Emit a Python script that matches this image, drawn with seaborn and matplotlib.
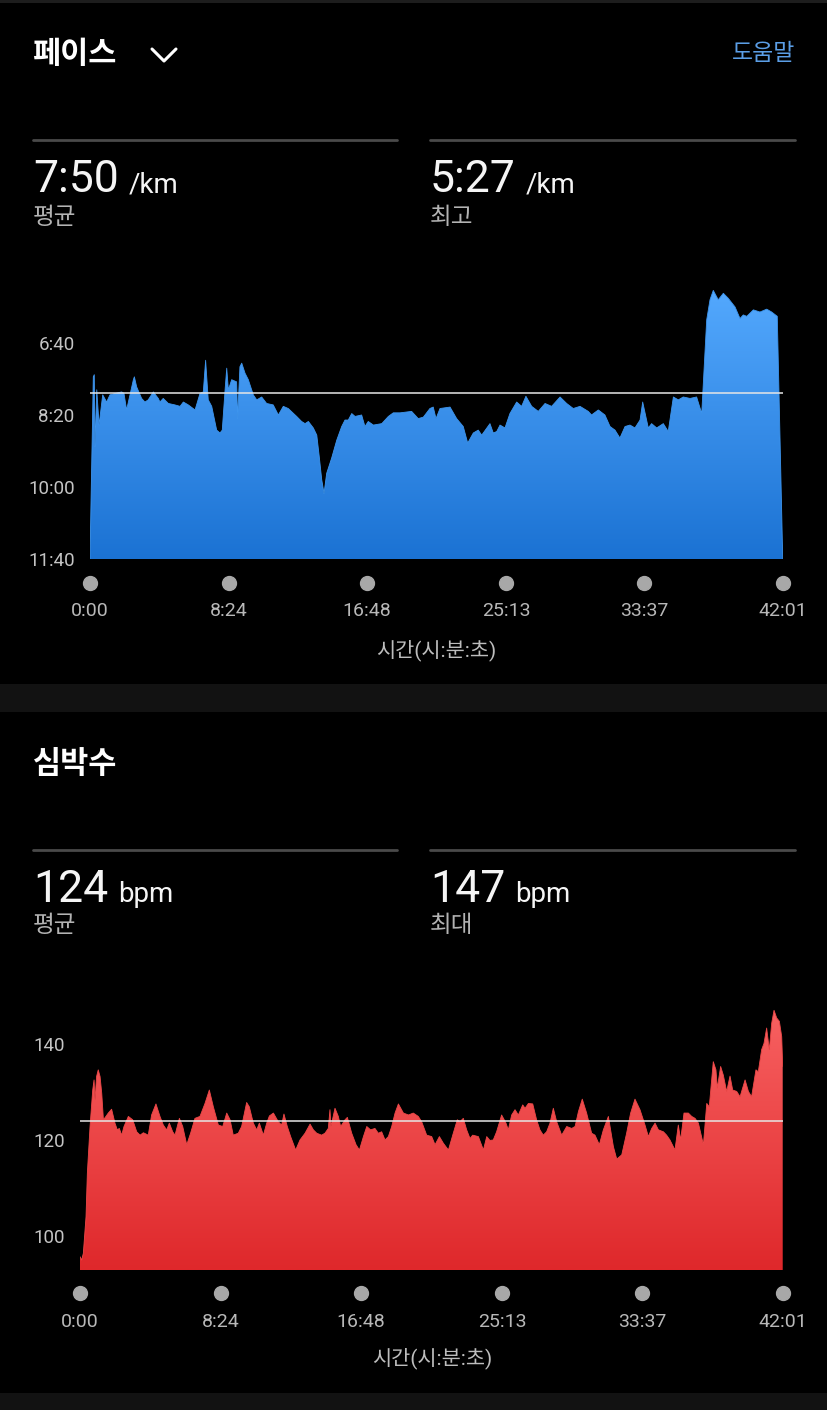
import numpy as np
import pandas as pd
import matplotlib
matplotlib.use("Agg")
import matplotlib.pyplot as plt
import seaborn as sns
from matplotlib.colors import LinearSegmentedColormap
from matplotlib.transforms import offset_copy
from matplotlib.lines import Line2D
from matplotlib.patches import Rectangle

# ---------------- data ----------------
time_ticks_min = [0, 8.4, 16.8, 25.2167, 33.6167, 42.0167]
time_tick_labels = ["0:00", "8:24", "16:48", "25:13", "33:37", "42:01"]
time_end_min = 42.0167

pace_time_min = [0.00, 0.20, 0.26, 0.30, 0.41, 0.55, 0.77, 1.01, 1.21, 1.72,
                 1.92, 2.06, 2.22, 2.63, 2.69, 2.83, 3.13, 3.33, 3.53, 3.84,
                 4.14, 4.24, 4.44, 4.75, 5.15, 5.46, 5.66, 5.96, 6.37, 6.67,
                 6.87, 7.01, 7.17, 7.38, 7.68, 7.88, 8.02, 8.19, 8.29, 8.39,
                 8.59, 8.89, 8.95, 9.09, 9.20, 9.40, 9.60, 9.90, 10.11, 10.41,
                 10.71, 11.11, 11.42, 11.72, 12.02, 12.53, 12.83, 13.04, 13.24, 13.54,
                 13.75, 13.90, 14.05, 14.19, 14.35, 14.65, 14.96, 15.26, 15.46, 15.66,
                 15.87, 16.07, 16.47, 16.67, 16.87, 17.18, 17.69, 18.09, 18.39, 18.80,
                 19.50, 19.90, 20.21, 20.61, 20.81, 20.98, 21.22, 21.83, 22.23, 22.63,
                 22.90, 23.24, 23.54, 23.75, 24.25, 24.45, 24.66, 24.86, 25.16, 25.46,
                 25.87, 26.17, 26.43, 26.78, 27.18, 27.59, 27.99, 28.50, 28.90, 29.30,
                 29.71, 30.21, 30.41, 30.82, 31.22, 31.53, 31.83, 32.13, 32.44, 32.74,
                 33.04, 33.35, 33.51, 33.85, 34.05, 34.36, 34.76, 35.06, 35.37, 35.67,
                 35.97, 36.38, 36.78, 37.09, 37.39, 37.59, 37.79, 38.09, 38.40, 38.70,
                 39.11, 39.41, 39.61, 39.82, 40.22, 40.62, 41.03, 41.33, 41.67, 42.00]
pace_sec = [700, 447, 444, 544, 465, 514, 472, 482, 472, 469,
            468, 470, 493, 451, 447, 461, 477, 482, 479, 468,
            477, 482, 477, 484, 486, 488, 482, 486, 493, 470,
            468, 424, 479, 488, 521, 525, 521, 465, 435, 465,
            451, 454, 505, 433, 428, 442, 451, 472, 479, 475,
            484, 486, 500, 488, 491, 502, 509, 512, 509, 518,
            528, 558, 590, 609, 581, 560, 535, 516, 507, 507,
            498, 502, 500, 516, 509, 514, 512, 502, 497, 497,
            495, 505, 503, 491, 489, 505, 491, 489, 505, 516,
            539, 525, 521, 528, 512, 525, 523, 514, 518, 498,
            482, 488, 474, 488, 495, 484, 488, 475, 484, 491,
            488, 495, 500, 493, 500, 516, 521, 532, 516, 514,
            518, 507, 482, 518, 512, 518, 512, 523, 475, 479,
            475, 477, 475, 498, 368, 340, 327, 340, 331, 338,
            350, 366, 361, 363, 354, 357, 353, 357, 363, 700]
pace_ticks_sec = [400, 500, 600, 700]
pace_tick_labels = ["6:40", "8:20", "10:00", "11:40"]
pace_avg_sec = 470   # 7:50
pace_axis_fast = 316.7
pace_axis_slow = 700

hr_time_min = [0.00, 0.10, 0.20, 0.36, 0.44, 0.60, 0.76, 0.84, 0.90, 0.99,
               1.09, 1.20, 1.30, 1.40, 1.55, 1.69, 1.89, 2.09, 2.23, 2.35,
               2.49, 2.63, 2.89, 3.15, 3.39, 3.59, 3.79, 4.08, 4.28, 4.54,
               4.78, 4.98, 5.18, 5.34, 5.54, 5.68, 5.94, 6.14, 6.38, 6.61,
               6.87, 7.17, 7.47, 7.73, 7.97, 8.27, 8.53, 8.77, 8.97, 9.16,
               9.46, 9.66, 9.96, 10.12, 10.36, 10.56, 10.72, 10.96, 11.16, 11.32,
               11.56, 11.85, 12.05, 12.19, 12.39, 12.59, 12.89, 13.15, 13.45, 13.75,
               13.95, 14.15, 14.44, 14.64, 14.84, 14.94, 15.00, 15.24, 15.44, 15.58,
               15.84, 15.98, 16.24, 16.50, 16.70, 16.94, 17.14, 17.37, 17.63, 17.83,
               18.03, 18.23, 18.43, 18.63, 18.83, 19.03, 19.33, 19.63, 19.92,
               20.22, 20.42, 20.72, 21.02, 21.22, 21.48, 21.72, 22.02, 22.31, 22.55,
               22.71, 22.91, 23.11, 23.31, 23.47, 23.81, 24.11, 24.31, 24.50, 24.70,
               24.90, 25.20, 25.46, 25.60, 25.80, 26.00, 26.20, 26.46, 26.60, 26.80,
               27.06, 27.29, 27.49, 27.69, 27.89, 28.09, 28.29, 28.49, 28.79, 29.09,
               29.39, 29.59, 29.79, 30.02, 30.28, 30.58, 30.78, 31.04, 31.28, 31.58,
               31.88, 32.08, 32.38, 32.67, 32.91, 33.17, 33.47, 33.77, 33.97, 34.17,
               34.37, 34.57, 34.87, 35.06, 35.26, 35.56, 35.76, 35.90, 36.10, 36.36,
               36.56, 36.76, 36.96, 37.26, 37.46, 37.61, 37.85, 38.01, 38.09, 38.29,
               38.45, 38.65, 38.85, 39.01, 39.25, 39.45, 39.75, 39.95, 40.14, 40.40,
               40.54, 40.74, 40.88, 41.04, 41.20, 41.34, 41.48, 41.64, 41.80, 41.94,
               42.00]
hr_bpm = [95.7, 95.0, 96.4, 104.0, 113.1, 122.8, 130.4, 132.5, 128.3, 133.2,
          134.6, 133.2, 129.7, 124.2, 124.9, 125.6, 126.4, 123.5, 122.1, 122.4,
          121.0, 122.8, 124.9, 124.2, 121.7, 121.0, 121.5, 121.0, 125.2, 127.5,
          124.9, 123.1, 122.1, 123.5, 121.7, 121.0, 124.5, 122.8, 119.0, 121.4,
          124.5, 124.9, 127.6, 130.4, 126.9, 123.1, 122.8, 125.6, 124.2, 121.0,
          121.4, 122.8, 127.8, 126.9, 123.5, 122.1, 123.5, 121.0, 123.5, 125.0,
          125.6, 123.8, 123.1, 125.4, 122.8, 120.7, 117.9, 120.0, 121.4, 123.3,
          122.1, 121.4, 121.0, 121.4, 122.4, 126.3, 122.8, 126.6, 124.9, 122.8,
          124.2, 124.7, 121.4, 119.0, 117.9, 120.7, 122.8, 122.1, 122.4, 121.4,
          121.7, 120.0, 120.7, 122.8, 125.6, 127.5, 125.6, 125.2, 125.6,
          124.9, 123.8, 121.0, 120.7, 119.0, 120.7, 119.3, 117.9, 121.4, 124.2,
          123.8, 124.5, 122.1, 120.3, 121.0, 120.7, 117.9, 120.7, 119.9, 120.0,
          121.7, 125.2, 123.5, 122.1, 125.2, 126.3, 125.2, 127.3, 126.6, 127.6,
          127.5, 124.2, 122.1, 121.0, 121.7, 123.5, 126.6, 123.8, 121.0, 122.8,
          122.4, 122.8, 125.9, 128.5, 125.6, 121.4, 121.0, 119.0, 122.1, 124.9,
          118.6, 116.0, 116.9, 121.4, 125.6, 128.5, 126.3, 123.1, 120.7, 122.4,
          123.5, 122.1, 121.7, 121.0, 120.0, 117.9, 123.1, 120.0, 125.6, 125.6,
          124.9, 124.5, 123.5, 119.0, 127.6, 126.9, 136.3, 134.6, 130.8, 135.3,
          133.5, 130.1, 133.3, 130.4, 130.1, 129.0, 132.5, 130.1, 129.0, 134.6,
          134.2, 138.8, 140.1, 143.3, 138.8, 144.3, 147.0, 145.4, 144.7, 141.5,
          135.3]
hr_ticks = [100, 120, 140]
hr_tick_labels = ["100", "120", "140"]
hr_avg = 124
hr_axis_low = 92.92
hr_axis_high = 148.1

pace_title = "페이스"
help_label = "도움말"
hr_title = "심박수"
x_label = "시간(시:분:초)"
pace_stats = [("7:50", "/km", "평균"), ("5:27", "/km", "최고")]
hr_stats = [("124", "bpm", "평균"), ("147", "bpm", "최대")]

# ---------------- style ----------------
sns.set_theme(style="dark", rc={"axes.facecolor": "black", "figure.facecolor": "black",
                                "axes.grid": False})
plt.rcParams["font.family"] = ["Roboto", "Noto Sans CJK KR", "DejaVu Sans"]

W, H = 828, 1410
fig = plt.figure(figsize=(W / 100, H / 100), dpi=100, facecolor="black")


def fx(x):
    return x / W


def fy(y):
    return 1 - y / H


# background bands
for y0, y1, c in [(0, 3, "#1d1d1d"), (684, 712, "#121212"), (1393, 1410, "#121212")]:
    fig.add_artist(Rectangle((0, fy(y1)), 1, (y1 - y0) / H, transform=fig.transFigure,
                             facecolor=c, lw=0))

renderer = fig.canvas.get_renderer()


def stat_block(x, base_y, big, unit, label, label_y):
    t1 = fig.text(fx(x), fy(base_y), big, fontsize=32, color="#f5f5f5", va="baseline")
    bb = t1.get_window_extent(renderer=renderer)
    fig.text((bb.x1 + 10) / W, fy(base_y), unit, fontsize=20, color="#f5f5f5", va="baseline")
    fig.text(fx(x), fy(label_y), label, fontsize=17, color="#b3b3b3", va="center")


def header(line_y, base_y, label_y, stats):
    for (x0, x1), st in zip([(33, 397), (430, 795)], stats):
        fig.add_artist(Line2D([fx(x0), fx(x1)], [fy(line_y), fy(line_y)],
                              transform=fig.transFigure, color="#4a4a4a", lw=2))
        stat_block(x0, base_y, st[0], st[1], st[2], label_y)


def panel(rect, t, v, floor, top, avg, yticks, ylabels, c_top, c_bot, line_c, dot_off):
    ax = fig.add_axes(rect)
    ax.set_facecolor("black")
    df = pd.DataFrame({"t": t, "v": v})
    coll = ax.fill_between(df["t"], df["v"], floor, facecolor="none", lw=0)
    grad = np.linspace(0, 1, 256).reshape(-1, 1)
    cmap = LinearSegmentedColormap.from_list("g", [c_top, c_bot])
    im = ax.imshow(grad, cmap=cmap, aspect="auto", origin="upper",
                   extent=(0, time_end_min, floor, top), zorder=1)
    im.set_clip_path(coll.get_paths()[0], transform=ax.transData)
    sns.lineplot(data=df, x="t", y="v", ax=ax, color=line_c, lw=0.6, zorder=2)
    ax.axhline(avg, color="#e6e6e6", lw=1.1, zorder=3)
    ax.plot(time_ticks_min, [0] * len(time_ticks_min), "o", ms=10, color="#a8a8a8",
            transform=offset_copy(ax.get_xaxis_transform(), fig=fig, y=-dot_off, units="dots"),
            clip_on=False, zorder=5)
    ax.set_xlim(0, time_end_min)
    ax.set_ylim(floor, top)
    ax.set_xticks(time_ticks_min, time_tick_labels)
    ax.set_yticks(yticks, ylabels)
    ax.tick_params(axis="x", length=0, pad=31, labelsize=14, labelcolor="#b8b8b8")
    ax.tick_params(axis="y", length=0, pad=11, labelsize=13.5, labelcolor="#c4c4c4")
    ax.set_xlabel("")
    ax.set_ylabel("")
    for s in ax.spines.values():
        s.set_visible(False)
    ax.grid(False)
    return ax


# ---------------- pace section ----------------
fig.text(fx(33), fy(54), pace_title, fontsize=22, fontweight="bold", color="white", va="center")
fig.add_artist(Line2D([fx(152), fx(164), fx(176)], [fy(49), fy(61), fy(49)],
                      transform=fig.transFigure, color="white", lw=2.2,
                      solid_capstyle="round", solid_joinstyle="round"))
fig.text(fx(795), fy(54), help_label, fontsize=16.5, color="#5b9ee6", va="center", ha="right")
header(140, 192, 217, pace_stats)

panel([fx(90), fy(559), (783 - 90) / W, (559 - 283) / H], pace_time_min, pace_sec,
      pace_axis_slow, pace_axis_fast, pace_avg_sec, pace_ticks_sec, pace_tick_labels,
      "#55aaff", "#1b72d3", "#3d95ee", 24)
fig.text(fx(436), fy(650), x_label, fontsize=15, color="#bdbdbd", ha="center", va="center")

# ---------------- heart rate section ----------------
fig.text(fx(33), fy(764), hr_title, fontsize=22, fontweight="bold", color="white", va="center")
header(850, 902, 926, hr_stats)

panel([fx(80), fy(1270), (783 - 80) / W, (1270 - 1005) / H], hr_time_min, hr_bpm,
      hr_axis_low, hr_axis_high, hr_avg, hr_ticks, hr_tick_labels,
      "#f86262", "#df282b", "#ee4848", 23)
fig.text(fx(432), fy(1358), x_label, fontsize=15, color="#bdbdbd", ha="center", va="center")

fig.savefig("out.png", dpi=100, facecolor="black")
